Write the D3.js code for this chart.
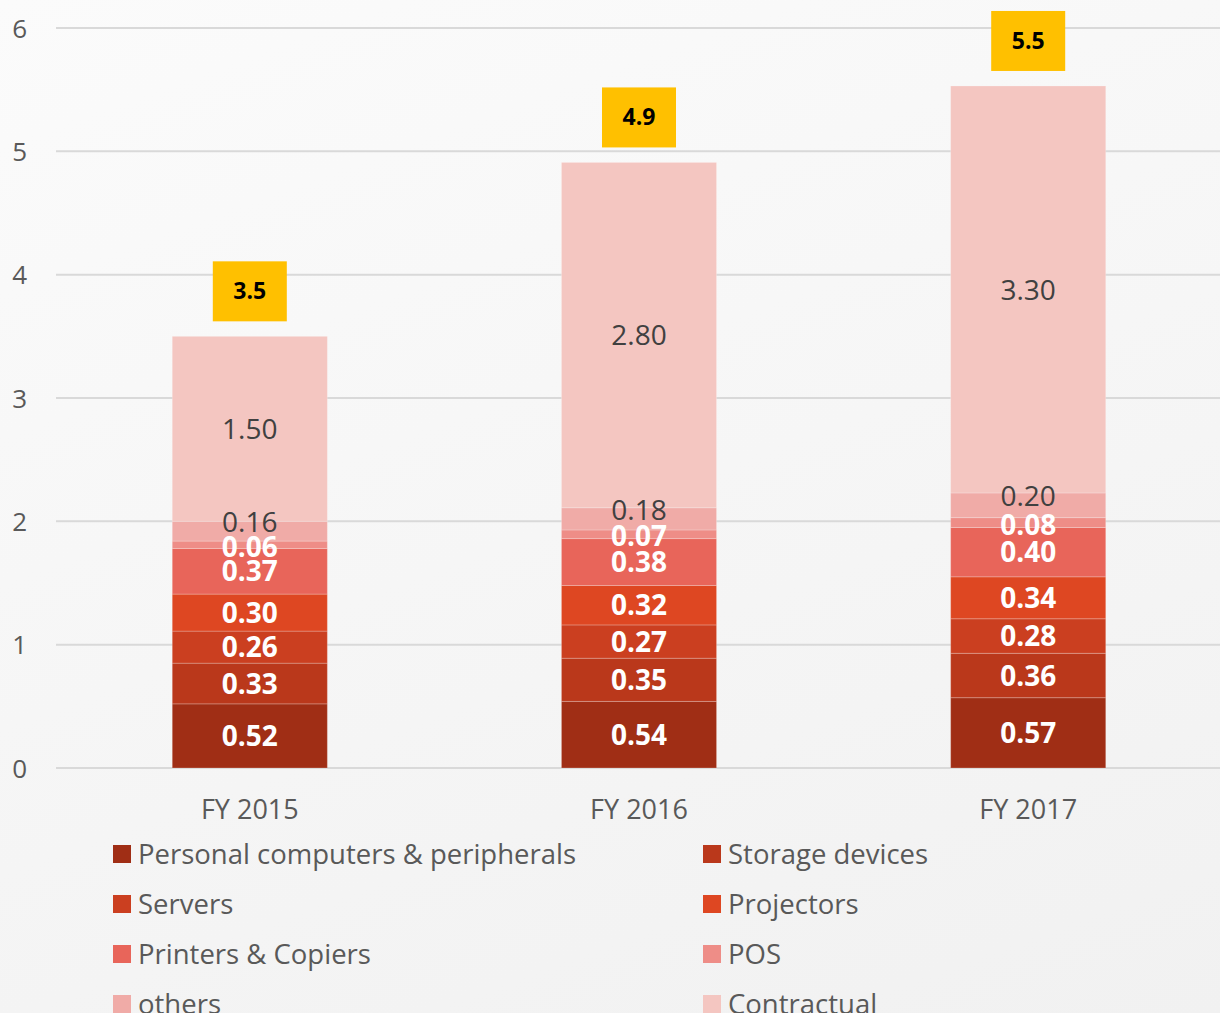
<!DOCTYPE html>
<html>
<head>
<meta charset="utf-8">
<script src="https://cdn.jsdelivr.net/npm/d3@7"></script>
<style>
  html, body { margin: 0; padding: 0; }
  body { width: 1220px; height: 1013px; overflow: hidden;
         background: linear-gradient(160deg, #fbfbfb 0%, #f1f1f1 100%); }
  svg { display: block; font-family: "Open Sans", Lato, sans-serif; }
</style>
</head>
<body>
<svg id="chart" width="1220" height="1013"></svg>
<script>
var
  years = ["FY 2015", "FY 2016", "FY 2017"],
  seriesNames = ["Personal computers & peripherals", "Storage devices", "Servers",
    "Projectors", "Printers & Copiers", "POS", "others", "Contractual"],
  pcs = [0.52, 0.54, 0.57],
  storage = [0.33, 0.35, 0.36],
  servers = [0.26, 0.27, 0.28],
  projectors = [0.30, 0.32, 0.34],
  printers = [0.37, 0.38, 0.40],
  pos = [0.06, 0.07, 0.08],
  others = [0.16, 0.18, 0.20],
  contractual = [1.50, 2.80, 3.30],
  totals = [3.5, 4.9, 5.5],
  yTicks = [0, 1, 2, 3, 4, 5, 6];

var
  COLORS = ["#a02e15", "#ba381b", "#cb3f20", "#de4722", "#e8655a", "#ee8d87", "#f0aba7", "#f4c6c1"],
  LABEL_FILLS = ["#fff", "#fff", "#fff", "#fff", "#fff", "#fff", "#404040", "#404040"],
  LABEL_WEIGHTS = ["bold", "bold", "bold", "bold", "bold", "bold", "normal", "normal"],
  LABEL_SHIFT = [0, 0, 0, 0, 0, 2, -9, 0],
  series = [pcs, storage, servers, projectors, printers, pos, others, contractual],
  svg = d3.select("#chart");

var rows = years.map(function(year, i){
  var row = { year: year };
  seriesNames.forEach(function(name, k){ row[name] = series[k][i]; });
  return row;
});

var stacked = d3.stack().keys(seriesNames)(rows);
var tops = stacked[stacked.length - 1];

var x = d3.scaleBand().domain(years).range([55.5, 1222.5]).paddingInner(0.6015).paddingOuter(0.3);
var y = d3.scaleLinear().domain([0, 6]).range([768, 28]);

// grid
svg.append("g").selectAll("line").data(yTicks).join("line")
  .attr("x1", 56).attr("x2", 1220)
  .attr("y1", function(d){ return y(d); })
  .attr("y2", function(d){ return y(d); })
  .attr("stroke", "#d9d9d9").attr("stroke-width", 2);

var yAxis = svg.append("g").attr("transform", "translate(27,0)")
  .call(d3.axisLeft(y).tickValues(yTicks).tickSize(0).tickFormat(d3.format("d")));
yAxis.select(".domain").remove();
yAxis.selectAll("text").attr("font-size", 26).attr("fill", "#595959")
  .attr("font-family", "'Open Sans', sans-serif").attr("dy", "0.35em").attr("x", 0);

// bars
var layers = svg.append("g").selectAll("g").data(stacked).join("g")
  .attr("fill", function(d, k){ return COLORS[k]; });

layers.selectAll("rect").data(function(d){ return d; }).join("rect")
  .attr("x", function(d){ return x(d.data.year); })
  .attr("width", x.bandwidth())
  .attr("y", function(d){ return y(d[1]); })
  .attr("height", function(d){ return y(d[0]) - y(d[1]); })
  .attr("stroke", "rgba(255,255,255,0.22)").attr("stroke-width", 1);

// segment labels
stacked.forEach(function(layer, k){
  svg.append("g").selectAll("text").data(layer).join("text")
    .attr("x", function(d){ return x(d.data.year) + x.bandwidth() / 2; })
    .attr("y", function(d){ return (y(d[0]) + y(d[1])) / 2 + LABEL_SHIFT[k]; })
    .attr("dy", "0.36em")
    .attr("text-anchor", "middle")
    .attr("font-size", 28)
    .attr("font-weight", LABEL_WEIGHTS[k])
    .attr("fill", LABEL_FILLS[k])
    .text(function(d){ return d3.format(".2f")(d[1] - d[0]); });
});

// totals
var totalBoxes = svg.append("g").selectAll("g").data(totals).join("g")
  .attr("transform", function(d, i){
    return "translate(" + (x(years[i]) + x.bandwidth() / 2) + "," + (y(tops[i][1]) - 45) + ")";
  });
totalBoxes.append("rect")
  .attr("x", -37).attr("y", -30).attr("width", 74).attr("height", 60)
  .attr("fill", "#ffc000");
totalBoxes.append("text")
  .attr("text-anchor", "middle").attr("dy", "0.35em")
  .attr("font-size", 23).attr("font-weight", "bold").attr("fill", "#000")
  .text(function(d){ return d3.format(".1f")(d); });

// category axis
var xAxis = svg.append("g").attr("transform", "translate(0,768)")
  .call(d3.axisBottom(x).tickSize(0));
xAxis.select(".domain").remove();
xAxis.selectAll("text").attr("font-size", 27).attr("fill", "#595959")
  .attr("font-family", "'Open Sans', sans-serif").attr("dy", "0").attr("y", 51);

// legend
var legend = svg.append("g").selectAll("g").data(seriesNames).join("g")
  .attr("transform", function(d, k){
    return "translate(" + (k % 2 === 0 ? 113 : 703) + "," + (854 + Math.floor(k / 2) * 50) + ")";
  });
legend.append("rect")
  .attr("x", 0).attr("y", -9).attr("width", 18).attr("height", 18)
  .attr("fill", function(d, k){ return COLORS[k]; });
legend.append("text")
  .attr("x", 25).attr("dy", "0.35em")
  .attr("font-size", 27.5).attr("fill", "#595959")
  .text(function(d){ return d; });
</script>
</body>
</html>
